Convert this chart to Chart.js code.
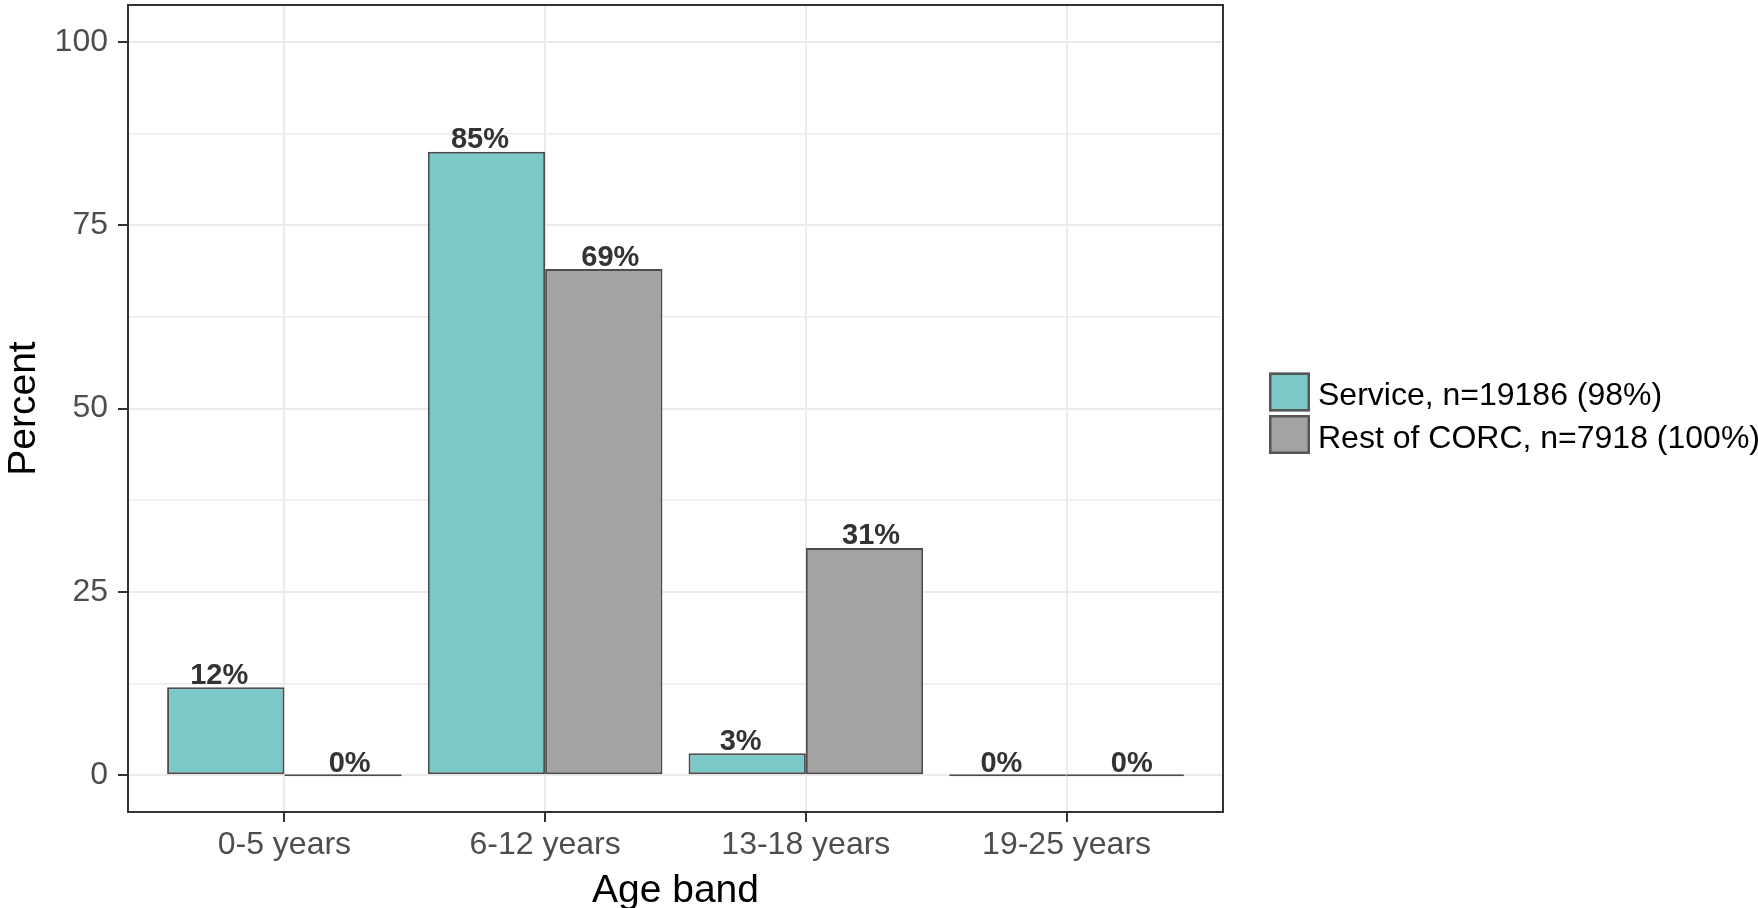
<!DOCTYPE html>
<html>
<head>
<meta charset="utf-8">
<title>Age band</title>
<script src="https://cdn.jsdelivr.net/npm/chart.js@4.4.1/dist/chart.umd.min.js"></script>
<style>
  html, body { margin: 0; padding: 0; background: #ffffff; }
  #wrap { width: 1758px; height: 908px; position: relative; }
</style>
</head>
<body>
<div id="wrap"><canvas id="chart"></canvas></div>
<script>
// ---- data ----
const categories = ['0-5 years', '6-12 years', '13-18 years', '19-25 years'];
const serviceValues = [12, 85, 3, 0];
const restValues = [0, 69, 31, 0];
const seriesNames = ['Service, n=19186 (98%)', 'Rest of CORC, n=7918 (100%)'];
const seriesColors = ['#7BC8C9', '#A3A3A3'];
const yMajorTicks = [0, 25, 50, 75, 100];
const yGridValues = [0, 12.5, 25, 37.5, 50, 62.5, 75, 87.5, 100];

// ---- styling ----
const FONT = "'Liberation Sans', Arial, Helvetica, sans-serif";
const GRID = '#EBEBEB';
const INK = '#333333';
const BAR_EDGE = '#4D4D4D';

// panel frame drawn all round the plotting area
const panelBorder = {
  id: 'panelBorder',
  afterDatasetsDraw(chart) {
    const {ctx, chartArea: a} = chart;
    ctx.save();
    ctx.strokeStyle = INK;
    ctx.lineWidth = 2;
    ctx.strokeRect(a.left, a.top, a.right - a.left, a.bottom - a.top);
    ctx.restore();
  }
};

// percentage labels above each bar (dodged a little wider than the bars)
const valueLabels = {
  id: 'valueLabels',
  afterDatasetsDraw(chart) {
    const {ctx} = chart;
    const xs = chart.scales.x, ys = chart.scales.y;
    const shifts = [-0.25, 0.25];
    ctx.save();
    ctx.font = "bold 29px " + FONT;
    ctx.fillStyle = INK;
    ctx.textAlign = 'center';
    ctx.textBaseline = 'alphabetic';
    chart.data.datasets.forEach((ds, d) => {
      ds.data.forEach((pt) => {
        const x = xs.getPixelForValue(pt.x + shifts[d]);
        const y = ys.getPixelForValue(pt.y) - 3.5;
        ctx.fillText(pt.y + '%', x, y);
      });
    });
    ctx.restore();
  }
};

// legend to the right of the panel
const sideLegend = {
  id: 'sideLegend',
  afterDraw(chart) {
    const {ctx, chartArea: a} = chart;
    const keyW = 41, keyH = 39, step = 42.5;
    const left = a.right + 46;
    const top = (a.top + a.bottom) / 2 - 36;
    ctx.save();
    ctx.font = "32px " + FONT;
    ctx.textBaseline = 'middle';
    ctx.textAlign = 'left';
    chart.data.datasets.forEach((ds, i) => {
      const y = top + i * step;
      ctx.fillStyle = ds.backgroundColor;
      ctx.fillRect(left, y, keyW, keyH);
      ctx.strokeStyle = '#555555';
      ctx.lineWidth = 2.5;
      ctx.strokeRect(left + 1.25, y + 1.25, keyW - 2.5, keyH - 2.5);
      ctx.fillStyle = '#000000';
      ctx.fillText(ds.label, left + keyW + 8, y + keyH / 2 + 4.5);
    });
    ctx.restore();
  }
};

const toPoints = (vals) => vals.map((v, i) => ({x: i + 1, y: v}));

new Chart(document.getElementById('chart'), {
  type: 'bar',
  data: {
    datasets: [
      {
        label: seriesNames[0],
        data: toPoints(serviceValues),
        backgroundColor: seriesColors[0],
        borderColor: BAR_EDGE,
        borderWidth: 2,
        borderSkipped: false,
        minBarLength: 2
      },
      {
        label: seriesNames[1],
        data: toPoints(restValues),
        backgroundColor: seriesColors[1],
        borderColor: BAR_EDGE,
        borderWidth: 2,
        borderSkipped: false,
        minBarLength: 2
      }
    ]
  },
  options: {
    responsive: true,
    maintainAspectRatio: false,
    animation: false,
    devicePixelRatio: 1,
    categoryPercentage: 0.9,
    barPercentage: 1.0,
    layout: {
      autoPadding: false,
      padding: {left: 0, top: 5, right: 535, bottom: 0}
    },
    plugins: {
      legend: {display: false},
      tooltip: {enabled: false}
    },
    scales: {
      x: {
        type: 'linear',
        min: 0.4,
        max: 4.6,
        bounds: 'data',
        offset: false,
        afterBuildTicks(scale) {
          scale.ticks = categories.map((c, i) => ({value: i + 1}));
        },
        afterFit(scale) {
          scale.height = 96;
          scale.paddingLeft = 0; scale.paddingRight = 0;
          scale.paddingTop = 0; scale.paddingBottom = 0;
        },
        border: {display: false},
        grid: {
          offset: false,
          color: GRID,
          lineWidth: 2,
          drawTicks: true,
          tickLength: 10,
          tickColor: INK,
          tickWidth: 2
        },
        ticks: {
          autoSkip: false,
          maxRotation: 0,
          padding: 4,
          color: '#4D4D4D',
          font: {family: FONT, size: 32},
          callback: (value, index) => categories[index]
        },
        title: {
          display: true,
          text: 'Age band',
          color: '#000000',
          font: {family: FONT, size: 39, lineHeight: 0.87},
          padding: 0
        }
      },
      y: {
        type: 'linear',
        min: -5,
        max: 105,
        bounds: 'data',
        afterBuildTicks(scale) {
          scale.ticks = yGridValues.map(v => ({value: v}));
        },
        afterFit(scale) {
          scale.width = 128;
          scale.paddingLeft = 0; scale.paddingRight = 0;
          scale.paddingTop = 0; scale.paddingBottom = 0;
        },
        border: {display: false},
        grid: {
          color: GRID,
          lineWidth: (c) => yMajorTicks.includes(c.tick && c.tick.value) ? 2 : 1.5,
          drawTicks: true,
          tickLength: 10,
          tickColor: (c) => yMajorTicks.includes(c.tick && c.tick.value) ? INK : 'rgba(0,0,0,0)',
          tickWidth: 2
        },
        ticks: {
          autoSkip: false,
          padding: 10,
          color: '#4D4D4D',
          font: {family: FONT, size: 32},
          callback: (value) => yMajorTicks.includes(value) ? String(value) : ''
        },
        title: {
          display: true,
          text: 'Percent',
          color: '#000000',
          font: {family: FONT, size: 39, lineHeight: 1.15},
          padding: {top: 2, bottom: 0}
        }
      }
    }
  },
  plugins: [panelBorder, valueLabels, sideLegend]
});
</script>
</body>
</html>
